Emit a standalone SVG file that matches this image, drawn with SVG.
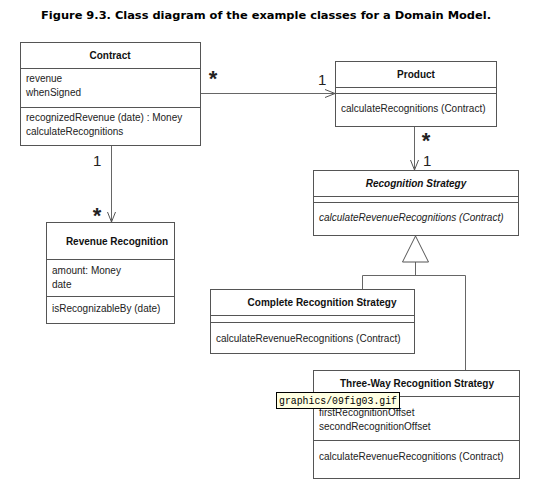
<svg xmlns="http://www.w3.org/2000/svg" width="533" height="494" viewBox="0 0 533 494">
<style>
.box{fill:#fff;stroke:#555;stroke-width:1}
.sep{stroke:#555;stroke-width:1}
.ln{fill:none;stroke:#666;stroke-width:1}
.t{font-family:"Liberation Sans",Arial,sans-serif;font-size:10px;fill:#222}
.h{font-family:"Liberation Sans",Arial,sans-serif;font-size:10px;font-weight:bold;fill:#111}
.m{font-family:"Liberation Sans",Arial,sans-serif;font-size:15px;fill:#222}
.s{font-family:"Liberation Sans",Arial,sans-serif;font-size:22px;font-weight:bold;fill:#222;text-anchor:middle}
.ttl{font-family:"DejaVu Sans",Verdana,sans-serif;font-size:11px;font-weight:bold;fill:#000}
</style>
<defs>
<marker id="open" viewBox="0 0 10 10" refX="10" refY="5" markerWidth="10" markerHeight="10" markerUnits="userSpaceOnUse" orient="auto">
<path d="M0,1 L10,5 L0,9" fill="none" stroke="#555" stroke-width="1"/>
</marker>
</defs>
<rect width="533" height="494" fill="#fff"/>
<text class="ttl" x="266" y="19" text-anchor="middle" textLength="450" lengthAdjust="spacingAndGlyphs">Figure 9.3. Class diagram of the example classes for a Domain Model.</text>

<g id="connectors">
<path class="ln" d="M200.5,93.5 H335" marker-end="url(#open)"/>
<path class="ln" d="M414.5,127 V170" marker-end="url(#open)"/>
<path class="ln" d="M111.5,145 V222" marker-end="url(#open)"/>
<path class="ln" d="M415.5,262 V275.5 M362.5,289 V275.5 H465.5 V370"/>
<path d="M415.5,236 L402.5,262 H428.5 Z" fill="#fff" stroke="#555" stroke-width="1"/>
<text class="s" x="213" y="86">*</text>
<text class="m" x="318" y="85">1</text>
<text class="s" x="426" y="148">*</text>
<text class="m" x="423" y="166">1</text>
<text class="m" x="93" y="166">1</text>
<text class="s" x="97" y="223">*</text>
</g>

<g id="contract">
<rect class="box" x="20.5" y="42.5" width="180" height="103"/>
<line class="sep" x1="20.5" y1="68.5" x2="200.5" y2="68.5"/>
<line class="sep" x1="20.5" y1="107.5" x2="200.5" y2="107.5"/>
<text class="h" x="110" y="59" text-anchor="middle">Contract</text>
<text class="t" x="26" y="82">revenue</text>
<text class="t" x="26" y="96">whenSigned</text>
<text class="t" x="26" y="121">recognizedRevenue (date) : Money</text>
<text class="t" x="26" y="135">calculateRecognitions</text>
</g>

<g id="product">
<rect class="box" x="335.5" y="61.5" width="161" height="65"/>
<line class="sep" x1="335.5" y1="87.5" x2="496.5" y2="87.5"/>
<line class="sep" x1="335.5" y1="93.5" x2="496.5" y2="93.5"/>
<text class="h" x="416" y="78" text-anchor="middle">Product</text>
<text class="t" x="341" y="112">calculateRecognitions (Contract)</text>
</g>

<g id="recognition-strategy">
<rect class="box" x="313.5" y="170.5" width="205" height="65"/>
<line class="sep" x1="313.5" y1="196.5" x2="518.5" y2="196.5"/>
<line class="sep" x1="313.5" y1="202.5" x2="518.5" y2="202.5"/>
<text class="h" x="416" y="187" text-anchor="middle" font-style="italic">Recognition Strategy</text>
<text class="t" x="319" y="221" font-style="italic">calculateRevenueRecognitions (Contract)</text>
</g>

<g id="revenue-recognition">
<rect class="box" x="46.5" y="222.5" width="128" height="101"/>
<line class="sep" x1="46.5" y1="259.5" x2="174.5" y2="259.5"/>
<line class="sep" x1="46.5" y1="296.5" x2="174.5" y2="296.5"/>
<text class="h" x="117" y="245" text-anchor="middle">Revenue Recognition</text>
<text class="t" x="52" y="274">amount: Money</text>
<text class="t" x="52" y="288">date</text>
<text class="t" x="52" y="312">isRecognizableBy (date)</text>
</g>

<g id="complete-recognition-strategy">
<rect class="box" x="210.5" y="289.5" width="204" height="64"/>
<line class="sep" x1="210.5" y1="315.5" x2="414.5" y2="315.5"/>
<line class="sep" x1="210.5" y1="322.5" x2="414.5" y2="322.5"/>
<text class="h" x="322" y="306" text-anchor="middle">Complete Recognition Strategy</text>
<text class="t" x="216" y="342">calculateRevenueRecognitions (Contract)</text>
</g>

<g id="three-way-recognition-strategy">
<rect class="box" x="313.5" y="370.5" width="206" height="108"/>
<line class="sep" x1="313.5" y1="396.5" x2="519.5" y2="396.5"/>
<line class="sep" x1="313.5" y1="440.5" x2="519.5" y2="440.5"/>
<text class="h" x="417" y="387" text-anchor="middle">Three-Way Recognition Strategy</text>
<text class="t" x="319" y="416">firstRecognitionOffset</text>
<text class="t" x="319" y="430">secondRecognitionOffset</text>
<text class="t" x="319" y="460">calculateRevenueRecognitions (Contract)</text>
</g>

<g id="tooltip">
<rect x="276.5" y="392.5" width="123" height="16" fill="#ffffe1" stroke="#000" stroke-width="1"/>
<text x="279" y="404" font-family="'Liberation Mono','Noto Sans CJK SC',monospace" font-size="10.5px" fill="#000" textLength="118" lengthAdjust="spacingAndGlyphs">graphics/09fig03.gif</text>
</g>
</svg>
